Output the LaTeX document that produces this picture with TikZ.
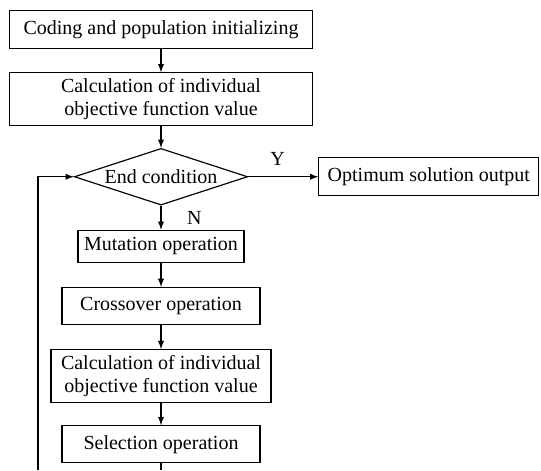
\documentclass[tikz,border=0pt]{standalone}
\usepackage{fontspec}
\setmainfont{Liberation Serif}
\usetikzlibrary{arrows, positioning, shapes.geometric}
\tikzset {
  box/.style = {draw, line width=0.7pt, rectangle, align=center, inner sep=1pt, font=\fontsize{12}{14}\selectfont},
  decision/.style = {draw, line width=0.7pt, diamond, aspect=3, inner sep=0pt, minimum width=104pt, minimum height=34pt, font=\fontsize{12}{14}\selectfont},
  line/.style = {->, line width=0.7pt, color=black, >=latex},
  plain/.style = {line width=0.7pt, color=black},
  tag/.style = {font=\fontsize{12}{14}\selectfont}
}

\begin{document}
\begin{tikzpicture}[x=0.6pt, y=-0.6pt]
    \useasboundingbox (0,0) rectangle (541,470);

    \node[box, minimum width=182pt, minimum height=22.8pt, anchor=north] (init) at (161,10) {Coding and population initializing};
    \node[box, minimum width=182pt, minimum height=31.8pt, below=13.8pt of init] (calc1) {Calculation of individual\\objective function value};
    \node[decision, below=12.9pt of calc1] (endcond) {End condition};
    \node[box, minimum width=132pt, minimum height=22.8pt, right=42pt of endcond] (output) {Optimum solution output};
    \node[box, minimum width=99.6pt, minimum height=19.2pt, below=14.4pt of endcond] (mutation) {Mutation operation};
    \node[box, minimum width=118.8pt, minimum height=22.2pt, below=14.4pt of mutation] (crossover) {Crossover operation};
    \node[box, minimum width=132pt, minimum height=31.8pt, below=14.4pt of crossover] (calc2) {Calculation of individual\\objective function value};
    \node[box, minimum width=118.8pt, minimum height=22.2pt, below=13.2pt of calc2] (selection) {Selection operation};

    \coordinate (loopstart) at (38,470);
    \coordinate (seltail) at (selection.south |- loopstart);

    \draw[line] (init) -- (calc1);
    \draw[line] (calc1) -- (endcond);
    \draw[line] (endcond) -- node[tag, pos=0.42, above=3pt] {Y} (output);
    \draw[line] (endcond) -- node[tag, midway, right=12pt] {N} (mutation);
    \draw[line] (mutation) -- (crossover);
    \draw[line] (crossover) -- (calc2);
    \draw[line] (calc2) -- (selection);
    \draw[plain] (selection) -- (seltail);
    \draw[line] (loopstart) |- (endcond.west);

\end{tikzpicture}
\end{document}
